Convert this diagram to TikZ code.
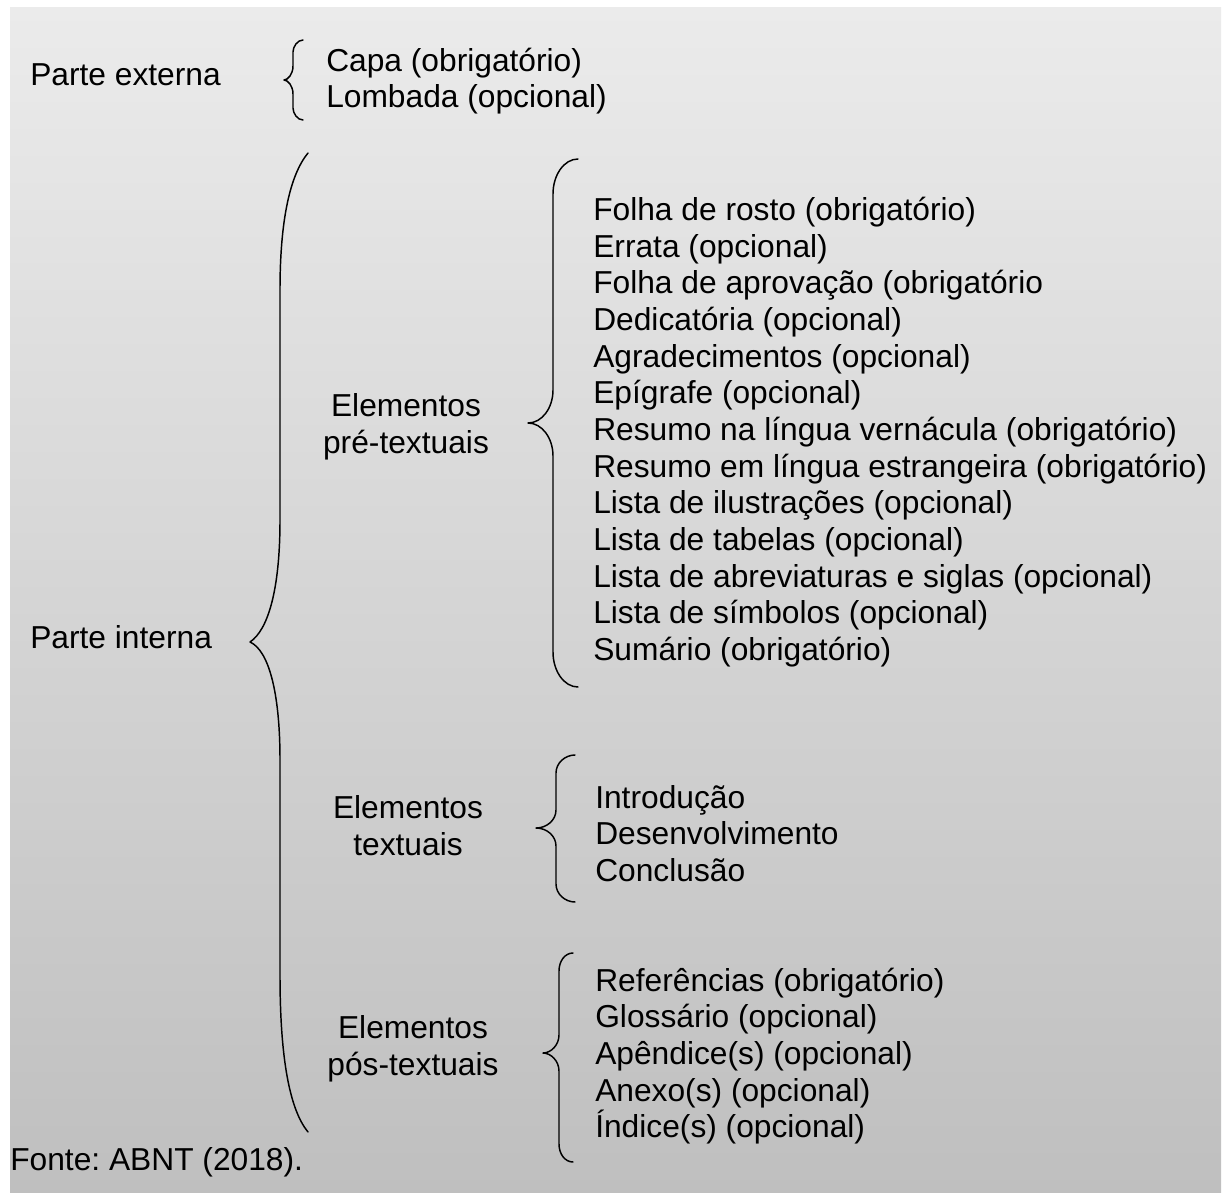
\documentclass[tikz,border=0pt]{standalone}
\usepackage{fontspec}
\setmainfont{Liberation Sans}
\frenchspacing
\definecolor{fundotopo}{RGB}{235,235,235}
\definecolor{fundobase}{RGB}{191,191,191}
\tikzset {
texto/.style={inner sep=0pt,font=\fontsize{23.8}{27.5}\selectfont},
rotulo/.style={texto,anchor=base west},
grupo/.style={texto,align=center,anchor=base},
lista/.style={texto,align=left,anchor=base west},
chave/.style={draw=black,line width=1.1pt,line cap=round,line join=round}
}
\begin{document}
\begin{tikzpicture}
[x=0.75pt,y=-0.75pt]
\useasboundingbox (0,0) rectangle (1222,1193);
\fill[top color=fundotopo,bottom color=fundobase] (10,7) rectangle (1221,1193);

% textos (ancorados na linha de base da ultima linha)
\node[rotulo] (externa) at (30,85) {Parte externa};
\node[lista] (externa lista) at (326,107.7) {Capa (obrigatório)\\Lombada (opcional)};
\node[rotulo] (interna) at (30,648) {Parte interna};
\node[grupo] (pre) at (406,453) {Elementos\\pré-textuais};
\node[lista] (pre lista) at (593,660.4) {Folha de rosto (obrigatório)\\Errata (opcional)\\Folha de aprovação (obrigatório\\Dedicatória (opcional)\\Agradecimentos (opcional)\\Epígrafe (opcional)\\Resumo na língua vernácula (obrigatório)\\Resumo em língua estrangeira (obrigatório)\\Lista de ilustrações (opcional)\\Lista de tabelas (opcional)\\Lista de abreviaturas e siglas (opcional)\\Lista de símbolos (opcional)\\Sumário (obrigatório)};
\node[grupo] (textuais) at (408,855) {Elementos\\textuais};
\node[lista] (textuais lista) at (595,881.4) {Introdução\\Desenvolvimento\\Conclusão};
\node[grupo] (pos) at (413,1075) {Elementos\\pós-textuais};
\node[lista] (pos lista) at (595,1137.8) {Referências (obrigatório)\\Glossário (opcional)\\Apêndice(s) (opcional)\\Anexo(s) (opcional)\\Índice(s) (opcional)};
\node[rotulo] (fonte) at (10,1170) {Fonte: ABNT (2018).};

% chaves
\draw[chave] (303,40) .. controls (297.5,40) and (293,46.6) .. (293,52) -- (293,66) .. controls (293,74) and (288,80) .. (284,80) .. controls (288,80) and (293,86) .. (293,94) -- (293,108) .. controls (293,113.4) and (297.5,120) .. (303,120);
\draw[chave] (308,153) .. controls (290,175) and (280,220) .. (280,290) -- (280,520) .. controls (280,590) and (268,630) .. (250,642) .. controls (268,650) and (280,690) .. (280,760) -- (280,975) .. controls (280,1060) and (290,1110) .. (308,1132);
\draw[chave] (578,159) .. controls (564,159) and (553,175) .. (553,194) -- (553,390) .. controls (553,408) and (542,423) .. (528,423) .. controls (542,423) and (553,438) .. (553,456) -- (553,652) .. controls (553,671) and (564,687) .. (578,687);
\draw[chave] (575,755) .. controls (565,755) and (556,763) .. (556,773) -- (556,810) .. controls (556,820) and (547,828) .. (536,828) .. controls (547,828) and (556,836) .. (556,846) -- (556,884) .. controls (556,894) and (565,902) .. (575,902);
\draw[chave] (573,953) .. controls (565,953) and (559,961) .. (559,971) -- (559,1035) .. controls (559,1045) and (551,1053) .. (543,1053) .. controls (551,1053) and (559,1061) .. (559,1071) -- (559,1144) .. controls (559,1154) and (565,1162) .. (573,1162);
\end{tikzpicture}
\end{document}
